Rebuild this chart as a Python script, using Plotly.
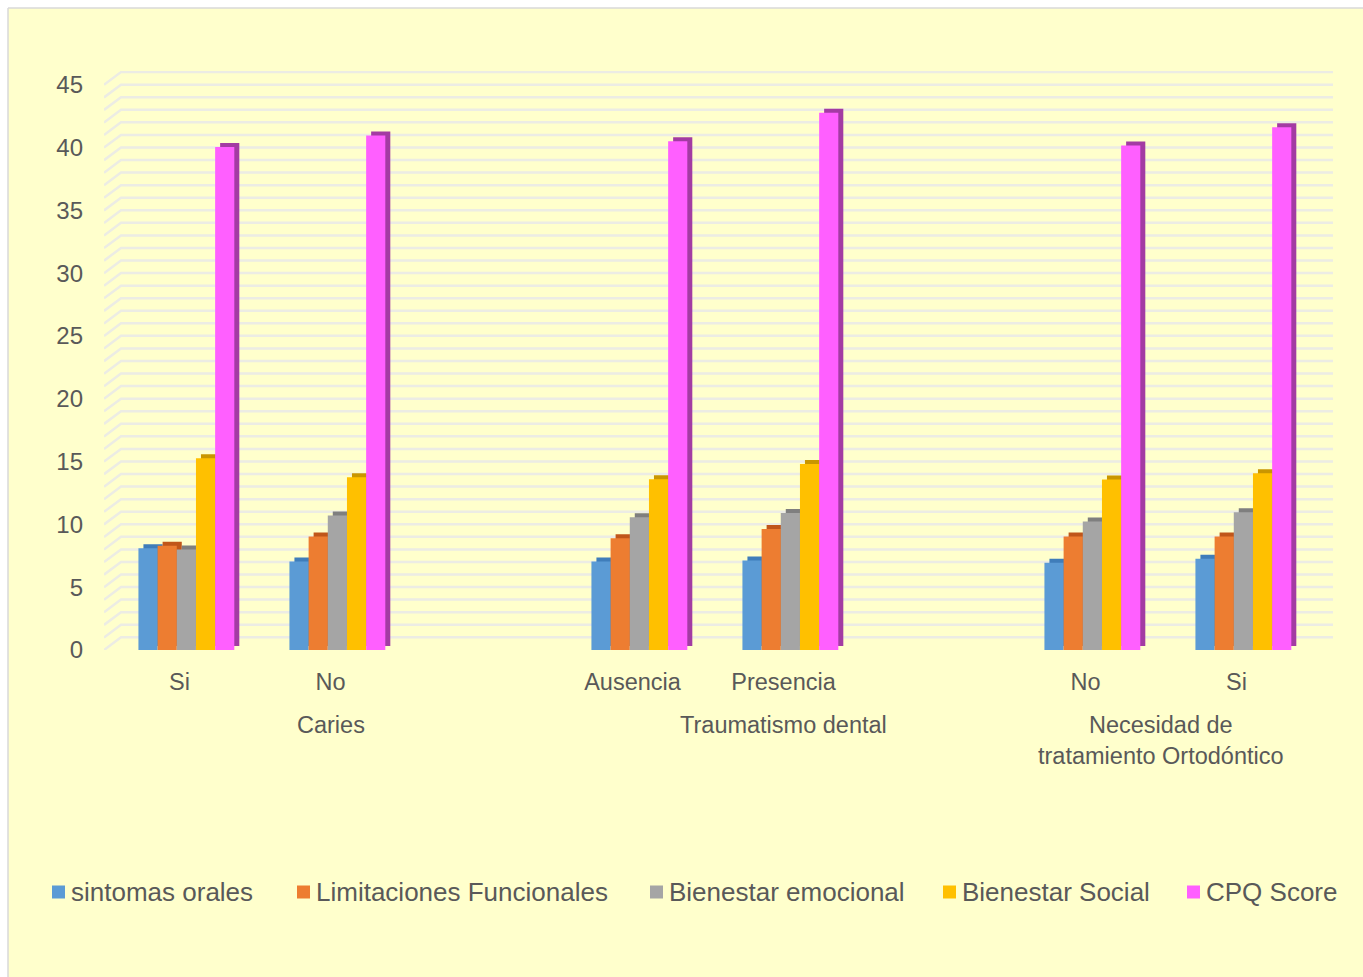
import plotly.graph_objects as go

# ---- data -------------------------------------------------------------
group_names = ["Caries", "Traumatismo dental", "Necesidad de<br>tratamiento Ortodóntico"]
subcategories = ["Si", "No", "Ausencia", "Presencia", "No", "Si"]
group_of = [0, 0, 1, 1, 2, 2]

series_names = ["sintomas orales", "Limitaciones Funcionales", "Bienestar emocional",
                "Bienestar Social", "CPQ Score"]
sintomas_orales = [8.1, 7.05, 7.05, 7.13, 6.94, 7.26]
limitaciones_funcionales = [8.3, 9.04, 8.9, 9.64, 9.04, 9.04]
bienestar_emocional = [8.0, 10.7, 10.57, 10.91, 10.23, 10.97]
bienestar_social = [15.26, 13.75, 13.6, 14.81, 13.57, 14.07]
cpq_score = [40.04, 40.96, 40.5, 42.77, 40.17, 41.63]
series_values = [sintomas_orales, limitaciones_funcionales, bienestar_emocional,
                 bienestar_social, cpq_score]

y_ticks = [0, 5, 10, 15, 20, 25, 30, 35, 40, 45]

# ---- styling ----------------------------------------------------------
front_colors = ["#5B9BD5", "#ED7D31", "#A5A5A5", "#FFC000", "#FF5FFF"]
depth_colors = ["#3F7DBA", "#C0561A", "#7F7F7F", "#C99600", "#A33BA3"]
text_color = "#595959"
grid_color = "rgb(236,236,228)"
bg_color = "#FFFFCC"
font_family = "Liberation Sans, Arial, sans-serif"

W, H = 1363, 977
plot_left, plot_right = 104, 1333
plot_top, plot_bottom = 71, 650
px_per_slot = 151
y_max = 46.1
x_min = -0.5
x_max = x_min + (plot_right - plot_left) / px_per_slot
px_per_unit = (plot_bottom - plot_top) / y_max

# legend layout (pixel positions of each swatch, row centre)
legend_swatch_left = [52, 297, 650, 943, 1187]
legend_row_y = 892
legend_swatch = 13

# category slots: one blank slot after each group except the last
slots = [i + g for i, g in enumerate(group_of)]
n_groups = len(group_names)
group_centers = []
for g in range(n_groups):
    members = [s for s, gg in zip(slots, group_of) if gg == g]
    last = max(members) + (1 if g < n_groups - 1 else 0)
    group_centers.append((min(members) + last) / 2)

bar_w = 0.127
group_start = -0.272
bar_dx = 5 / px_per_slot          # bar depth, horizontal
bar_dy = 4 / px_per_unit          # bar depth, vertical
wall_dx = 17 / px_per_slot        # wall depth, horizontal
wall_dy = 12.7 / px_per_unit      # wall depth, vertical

fig = go.Figure()

# depth faces (top/side) drawn first, front faces on top
for i, vals in enumerate(series_values):
    fig.add_trace(go.Bar(
        x=slots, y=vals, base=bar_dy,
        offset=group_start + i * bar_w + bar_dx, width=bar_w,
        marker=dict(color=depth_colors[i], line=dict(width=0)),
        showlegend=False, hoverinfo="skip",
    ))
for i, vals in enumerate(series_values):
    fig.add_trace(go.Bar(
        x=slots, y=vals, name=series_names[i],
        offset=group_start + i * bar_w, width=bar_w,
        marker=dict(color=front_colors[i], line=dict(width=0)),
        showlegend=False,
    ))


def px_to_paper_x(px):
    return (px - plot_left) / (plot_right - plot_left)


def px_to_paper_y(py):
    return (plot_bottom - py) / (plot_bottom - plot_top)


# chart background and border
shapes = [
    dict(type="rect", xref="paper", yref="paper", layer="below",
         x0=px_to_paper_x(8), x1=px_to_paper_x(W + 5),
         y0=px_to_paper_y(H + 5), y1=px_to_paper_y(8),
         fillcolor=bg_color, line=dict(width=0)),
    dict(type="line", xref="paper", yref="paper", layer="below",
         x0=px_to_paper_x(8), x1=px_to_paper_x(8),
         y0=px_to_paper_y(H + 5), y1=px_to_paper_y(8),
         line=dict(color="#D9D9D9", width=1.5)),
    dict(type="line", xref="paper", yref="paper", layer="below",
         x0=px_to_paper_x(8), x1=px_to_paper_x(W + 5),
         y0=px_to_paper_y(8), y1=px_to_paper_y(8),
         line=dict(color="#D9D9D9", width=1.5)),
]

# gridlines on the side and back walls, one per unit
for v in range(0, 46):
    shapes.append(dict(
        type="path", xref="x", yref="y", layer="below",
        path=f"M {x_min},{v} L {x_min + wall_dx},{v + wall_dy} L {x_max},{v + wall_dy}",
        line=dict(color=grid_color, width=2.5),
    ))

# group labels under the category labels
annotations = [
    dict(text=name, x=cx, xref="x", y=px_to_paper_y(710), yref="paper",
         yanchor="top", xanchor="center", showarrow=False,
         font=dict(size=23.5, color=text_color, family=font_family))
    for name, cx in zip(group_names, group_centers)
]

# legend: coloured swatch + series name
for name, color, left in zip(series_names, front_colors, legend_swatch_left):
    shapes.append(dict(
        type="rect", xref="paper", yref="paper",
        x0=px_to_paper_x(left), x1=px_to_paper_x(left + legend_swatch),
        y0=px_to_paper_y(legend_row_y + legend_swatch / 2),
        y1=px_to_paper_y(legend_row_y - legend_swatch / 2),
        fillcolor=color, line=dict(width=0),
    ))
    annotations.append(dict(
        text=name, xref="paper", yref="paper",
        x=px_to_paper_x(left + legend_swatch + 4), y=px_to_paper_y(legend_row_y),
        xanchor="left", yanchor="middle", showarrow=False,
        font=dict(size=26, color=text_color, family=font_family),
    ))

fig.update_layout(
    width=W, height=H,
    margin=dict(l=plot_left, r=W - plot_right, t=plot_top, b=H - plot_bottom, pad=0),
    barmode="overlay",
    paper_bgcolor="white",
    plot_bgcolor="rgba(0,0,0,0)",
    font=dict(family=font_family, color=text_color),
    shapes=shapes,
    annotations=annotations,
    xaxis=dict(range=[x_min, x_max], tickvals=slots, ticktext=subcategories,
               showgrid=False, zeroline=False, showline=False, ticks="",
               tickfont=dict(size=23.5, color=text_color), ticklabelstandoff=15),
    yaxis=dict(range=[0, y_max], tickvals=y_ticks,
               showgrid=False, zeroline=False, showline=False, ticks="",
               tickfont=dict(size=24, color=text_color), ticklabelstandoff=20),
    showlegend=False,
)

fig.write_html("out.html")
